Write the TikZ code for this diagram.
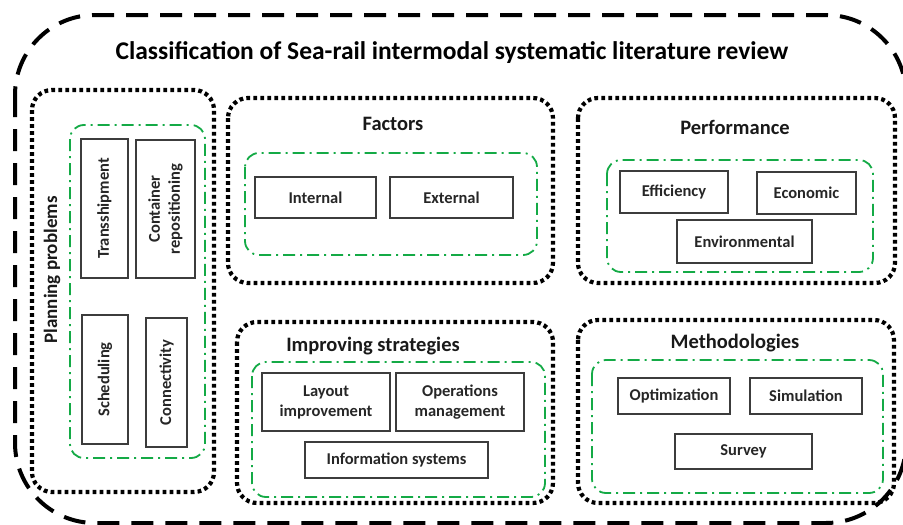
\documentclass[tikz,border=0pt]{standalone}
\usepackage{fontspec}
\setmainfont{Carlito}
\begin{document}
\begin{tikzpicture}[x=1pt,y=-1pt,
  outerframe/.style={line width=4pt, dash pattern=on 22pt off 12pt, rounded corners=80pt},
  dotframe/.style={line width=4.2pt, dash pattern=on 3.8pt off 3.2pt, rounded corners=20pt},
  greenframe/.style={draw=groupgreen, line width=1.8pt, dash pattern=on 12pt off 5pt on 2pt off 5pt, rounded corners=14pt},
  box/.style={draw=boxgray, line width=1.1pt, inner sep=2pt, align=center, font=\bfseries\fontsize{16.5}{20}\selectfont, text=black!85},
  heading/.style={font=\bfseries\fontsize{20.5}{24}\selectfont, text=black!90},
]
\definecolor{groupgreen}{RGB}{20,170,70}
\definecolor{boxgray}{RGB}{60,60,60}
\useasboundingbox (0,0) rectangle (903,525);
\clip (0,0) rectangle (903,525);

% outer frame and title
\draw[outerframe] (15,15) rectangle (906,523);
\node[font=\bfseries\fontsize{25.5}{30}\selectfont] (title) at (452,53) {Classification of Sea-rail intermodal systematic literature review};

% group frames
\draw[dotframe] (32,90) rectangle (214,492);
\draw[dotframe] (228,98) rectangle (553,283);
\draw[dotframe] (578,98) rectangle (895,283);
\draw[dotframe] (237,322) rectangle (553,503);
\draw[dotframe] (578,320) rectangle (894,503);

\draw[greenframe] (70,125) rectangle (205,458);
\draw[greenframe] (245,153) rectangle (537,255);
\draw[greenframe] (607,160) rectangle (873,272);
\draw[greenframe] (252,362) rectangle (545,497);
\draw[greenframe] (592,360) rectangle (883,493);

% planning problems
\node[heading, font=\bfseries\fontsize{19}{22}\selectfont, rotate=90] (plan) at (52,270) {Planning problems};
\node[box, rotate=90, minimum width=139pt, minimum height=47pt] (trans) at (104.5,208.5) {Transshipment};
\node[box, rotate=90, minimum width=138pt, minimum height=59pt] (repos) at (165.5,209) {Container\\repositioning};
\node[box, rotate=90, minimum width=129pt, minimum height=46pt] (sched) at (105,379.5) {Scheduling};
\node[box, rotate=90, minimum width=129pt, minimum height=41pt] (conn) at (166.5,382.5) {Connectivity};

% factors
\node[heading] (fact) at (393,124) {Factors};
\node[box, minimum width=121pt, minimum height=41pt] (int) at (315.5,197.5) {Internal};
\node[box, minimum width=123pt, minimum height=41pt] (ext) at (451.5,197.5) {External};

% performance
\node[heading] (perf) at (735,127) {Performance};
\node[box, minimum width=108pt, minimum height=42pt] (eff) at (674,192) {Efficiency};
\node[box, minimum width=99pt, minimum height=42pt] (eco) at (806.5,193) {Economic};
\node[box, minimum width=135pt, minimum height=43pt] (env) at (744.5,241.5) {Environmental};

% improving strategies
\node[heading] (impr) at (373,346) {Improving strategies};
\node[box, minimum width=128pt, minimum height=58pt] (lay) at (326,402) {Layout\\improvement};
\node[box, minimum width=128pt, minimum height=58pt] (ops) at (460,402) {Operations\\management};
\node[box, minimum width=183pt, minimum height=36pt] (info) at (396.5,460) {Information systems};

% methodologies
\node[heading] (meth) at (735,343) {Methodologies};
\node[box, minimum width=112pt, minimum height=36pt] (opt) at (674,396) {Optimization};
\node[box, minimum width=112pt, minimum height=36pt] (sim) at (806,396) {Simulation};
\node[box, minimum width=137pt, minimum height=35pt] (surv) at (743.5,451.5) {Survey};
\end{tikzpicture}
\end{document}
